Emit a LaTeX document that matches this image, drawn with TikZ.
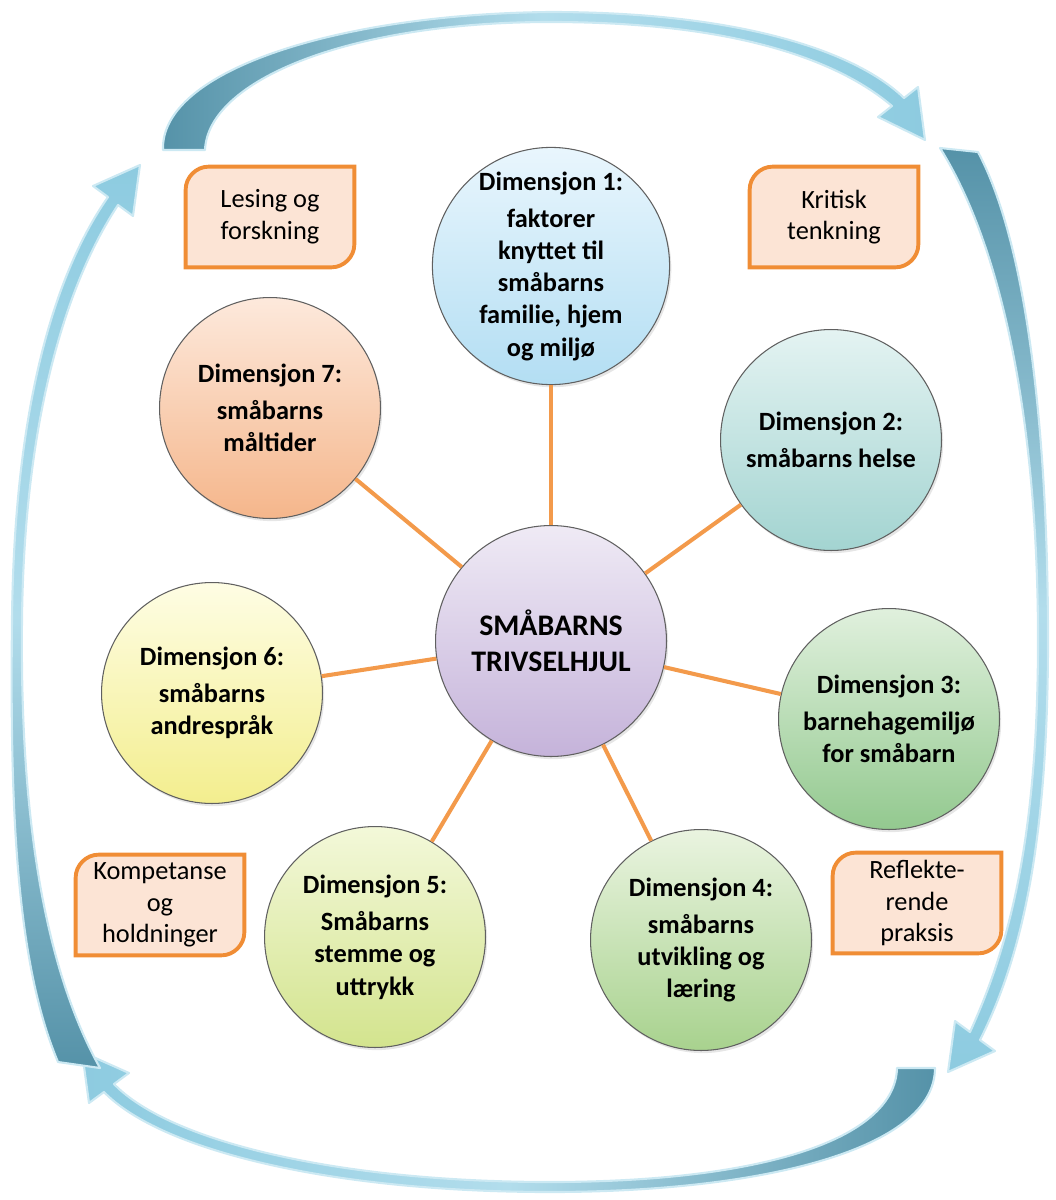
\documentclass[tikz,border=0pt]{standalone}
\usepackage{fontspec}
\setmainfont{Carlito}
\usepackage{xcolor}
\usepackage{tikz}
\usetikzlibrary{backgrounds, shadows}
\definecolor{spokeorange}{HTML}{F39A4B}
\definecolor{noteorange}{HTML}{F08D35}
\definecolor{notefill}{HTML}{FCE4D5}
\definecolor{loopdark}{HTML}{5592A8}
\definecolor{looplight}{HTML}{B2DDEC}
\definecolor{loopmid}{HTML}{8DCBE0}
\definecolor{loopedge}{HTML}{CCE9F3}
\definecolor{hubtop}{HTML}{EFEAF5}\definecolor{hubbot}{HTML}{C5B3DA}
\definecolor{dAtop}{HTML}{E9F6FD}\definecolor{dAbot}{HTML}{B3DEF3}
\definecolor{dBtop}{HTML}{E4F3F2}\definecolor{dBbot}{HTML}{A3D4D1}
\definecolor{dCtop}{HTML}{E0F0DD}\definecolor{dCbot}{HTML}{93C98F}
\definecolor{dDtop}{HTML}{EAF4E0}\definecolor{dDbot}{HTML}{A8D28E}
\definecolor{dEtop}{HTML}{F3F8D9}\definecolor{dEbot}{HTML}{D3E48E}
\definecolor{dFtop}{HTML}{FEFDE4}\definecolor{dFbot}{HTML}{F3EE8E}
\definecolor{dGtop}{HTML}{FDE9DC}\definecolor{dGbot}{HTML}{F5B68B}
\newcommand{\dimfont}{\fontsize{15}{18.3}\selectfont\bfseries}
\newcommand{\notefont}{\fontsize{15}{18}\selectfont}
\newcommand{\hubfont}{\fontsize{17}{20.5}\selectfont\bfseries}
\tikzstyle{dim} = [circle, draw=gray!75!black, line width=0.6pt, minimum size=4.42cm, inner sep=0pt, align=center, font=\dimfont, drop shadow={opacity=0.2, shadow xshift=1pt, shadow yshift=-1.5pt}]
\tikzstyle{hub} = [dim, minimum size=4.62cm, font=\hubfont, top color=hubtop, bottom color=hubbot]
\tikzstyle{note} = [rectangle, minimum width=3.36cm, minimum height=2cm, align=center, font=\notefont]
\tikzstyle{noteline} = [draw=noteorange, fill=notefill, line width=2.2pt]
\tikzstyle{spoke} = [line width=2.3pt, draw=spokeorange]
\tikzstyle{loop} = [draw=loopedge, line width=1.2pt, line join=round]
\newcommand{\noteframe}[1]{%
  \path[noteline] (#1.south west) -- ([yshift=-13pt]#1.north west)
    .. controls ([yshift=-6pt]#1.north west) and ([xshift=6pt]#1.north west) .. ([xshift=13pt]#1.north west)
    -- (#1.north east) -- ([yshift=13pt]#1.south east)
    .. controls ([yshift=6pt]#1.south east) and ([xshift=-6pt]#1.south east) .. ([xshift=-13pt]#1.south east) -- cycle;}
\begin{document}
\begin{tikzpicture}[x=0.02cm, y=-0.02cm]
    \useasboundingbox (0,0) rectangle (1055,1200);

    % Cycle arrows
    \path[loop, left color=loopdark, right color=loopmid, middle color=looplight]
        (163,150) .. controls (160,70) and (340,14) .. (550,12) .. controls (750,12) and (860,55) .. (904,98)
        -- (918,87) -- (925,140) -- (878,117) -- (892,106)
        .. controls (840,62) and (740,22) .. (550,22) .. controls (350,22) and (208,80) .. (205,150) -- cycle;
    \path[loop, top color=loopdark, bottom color=loopmid, middle color=looplight]
        (978,152) .. controls (1030,250) and (1048,450) .. (1048,640) .. controls (1048,850) and (1020,960) .. (980,1040)
        -- (995,1051) -- (948,1072) -- (955,1021) -- (970,1032)
        .. controls (1005,955) and (1038,850) .. (1038,640) .. controls (1038,450) and (1010,260) .. (940,148) -- cycle;
    \path[loop, right color=loopdark, left color=loopmid, middle color=looplight]
        (935,1068) .. controls (935,1150) and (760,1192) .. (550,1192) .. controls (330,1192) and (160,1150) .. (104,1092)
        -- (89,1103) -- (82,1052) -- (129,1073) -- (114,1084)
        .. controls (170,1142) and (340,1182) .. (550,1182) .. controls (760,1182) and (895,1140) .. (897,1068) -- cycle;
    \path[loop, bottom color=loopdark, top color=loopmid, middle color=looplight]
        (58,1062) .. controls (15,960) and (10,800) .. (12,620) .. controls (14,420) and (50,280) .. (108,197)
        -- (93,186) -- (140,165) -- (133,216) -- (118,205)
        .. controls (62,290) and (24,430) .. (22,620) .. controls (20,800) and (40,960) .. (100,1068) -- cycle;

    % Wheel
    \node[hub] (hub) at (551,641) {SMÅBARNS\\TRIVSELHJUL};
    \node[dim, top color=dAtop, bottom color=dAbot] (dim1) at (551,266) {Dimensjon 1:\\[3pt]faktorer\\knyttet til\\småbarns\\familie, hjem\\og miljø};
    \node[dim, top color=dBtop, bottom color=dBbot] (dim2) at (831,440) {Dimensjon 2:\\[3pt]småbarns helse};
    \node[dim, top color=dCtop, bottom color=dCbot] (dim3) at (889,719) {Dimensjon 3:\\[3pt]barnehagemiljø\\for småbarn};
    \node[dim, top color=dDtop, bottom color=dDbot] (dim4) at (701,940) {Dimensjon 4:\\[3pt]småbarns\\utvikling og\\læring};
    \node[dim, top color=dEtop, bottom color=dEbot] (dim5) at (375,937) {Dimensjon 5:\\[3pt]Småbarns\\stemme og\\uttrykk};
    \node[dim, top color=dFtop, bottom color=dFbot] (dim6) at (212,693) {Dimensjon 6:\\[3pt]småbarns\\andrespråk};
    \node[dim, top color=dGtop, bottom color=dGbot] (dim7) at (270,408) {Dimensjon 7:\\[3pt]småbarns\\måltider};

    % Spokes
    \foreach \i in {1,...,7}
        \draw[spoke] (hub) -- (dim\i);

    % Notes
    \node[note] (lesing) at (270,217) {Lesing og\\forskning};
    \node[note] (kritisk) at (834,217) {Kritisk\\tenkning};
    \node[note] (kompetanse) at (160,905) {Kompetanse\\og\\holdninger};
    \node[note] (reflekterende) at (917,903) {Reflekte-\\rende\\praksis};
    \begin{scope}[on background layer]
        \foreach \b in {lesing, kritisk, kompetanse, reflekterende}
            \noteframe{\b};
    \end{scope}
\end{tikzpicture}
\end{document}
